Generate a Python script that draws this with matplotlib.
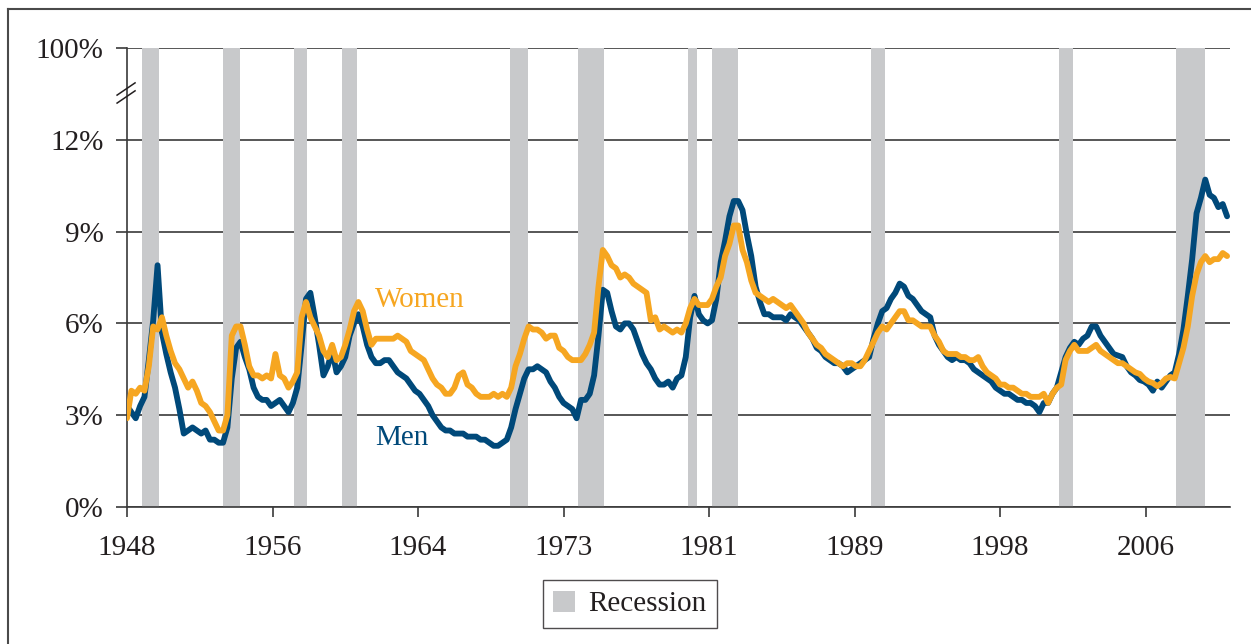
import numpy as np
import matplotlib
matplotlib.use("Agg")
import matplotlib.pyplot as plt
from matplotlib.patches import Patch
from matplotlib.lines import Line2D
from matplotlib.transforms import blended_transform_factory

plt.rcParams['font.family'] = ['Liberation Serif', 'DejaVu Serif']

# quarterly unemployment rates (%), first value = Q1 1948
men = [
    3.3, 3.1, 2.9, 3.3,   # 1948
    3.6, 4.8, 6.1, 7.9,   # 1949
    5.7, 5.0, 4.4, 3.9,   # 1950
    3.2, 2.4, 2.5, 2.6,   # 1951
    2.5, 2.4, 2.5, 2.2,   # 1952
    2.2, 2.1, 2.1, 2.6,   # 1953
    4.2, 5.2, 5.4, 4.9,   # 1954
    4.5, 3.9, 3.6, 3.5,   # 1955
    3.5, 3.3, 3.4, 3.5,   # 1956
    3.3, 3.1, 3.4, 3.9,   # 1957
    5.3, 6.8, 7.0, 6.2,   # 1958
    5.3, 4.3, 4.6, 5.1,   # 1959
    4.4, 4.6, 4.9, 5.6,   # 1960
    6.0, 6.3, 5.9, 5.3,   # 1961
    4.9, 4.7, 4.7, 4.8,   # 1962
    4.8, 4.6, 4.4, 4.3,   # 1963
    4.2, 4.0, 3.8, 3.7,   # 1964
    3.5, 3.3, 3.0, 2.8,   # 1965
    2.6, 2.5, 2.5, 2.4,   # 1966
    2.4, 2.4, 2.3, 2.3,   # 1967
    2.3, 2.2, 2.2, 2.1,   # 1968
    2.0, 2.0, 2.1, 2.2,   # 1969
    2.6, 3.2, 3.7, 4.2,   # 1970
    4.5, 4.5, 4.6, 4.5,   # 1971
    4.4, 4.1, 3.9, 3.6,   # 1972
    3.4, 3.3, 3.2, 2.9,   # 1973
    3.5, 3.5, 3.7, 4.3,   # 1974
    5.6, 7.1, 7.0, 6.4,   # 1975
    5.9, 5.8, 6.0, 6.0,   # 1976
    5.8, 5.4, 5.0, 4.7,   # 1977
    4.5, 4.2, 4.0, 4.0,   # 1978
    4.1, 3.9, 4.2, 4.3,   # 1979
    4.9, 6.2, 6.9, 6.3,   # 1980
    6.1, 6.0, 6.1, 6.8,   # 1981
    8.0, 8.7, 9.5, 10.0,  # 1982
    10.0, 9.7, 8.9, 8.2,  # 1983
    7.2, 6.7, 6.3, 6.3,   # 1984
    6.2, 6.2, 6.2, 6.1,   # 1985
    6.3, 6.2, 6.1, 5.9,   # 1986
    5.7, 5.5, 5.2, 5.1,   # 1987
    4.9, 4.8, 4.7, 4.7,   # 1988
    4.6, 4.4, 4.5, 4.6,   # 1989
    4.7, 4.8, 4.9, 5.5,   # 1990
    6.0, 6.4, 6.5, 6.8,   # 1991
    7.0, 7.3, 7.2, 6.9,   # 1992
    6.8, 6.6, 6.4, 6.3,   # 1993
    6.2, 5.6, 5.3, 5.1,   # 1994
    4.9, 4.8, 4.9, 4.8,   # 1995
    4.8, 4.7, 4.5, 4.4,   # 1996
    4.3, 4.2, 4.1, 3.9,   # 1997
    3.8, 3.7, 3.7, 3.6,   # 1998
    3.5, 3.5, 3.4, 3.4,   # 1999
    3.3, 3.1, 3.4, 3.4,   # 2000
    3.7, 3.9, 4.4, 4.9,   # 2001
    5.2, 5.4, 5.3, 5.5,   # 2002
    5.6, 5.9, 5.9, 5.6,   # 2003
    5.4, 5.2, 5.0, 4.95,  # 2004
    4.9, 4.6, 4.4, 4.3,   # 2005
    4.15, 4.1, 4.0, 3.8,  # 2006
    4.1, 3.9, 4.1, 4.3,   # 2007
    4.4, 5.0, 5.8, 6.9,   # 2008
    8.1, 9.6, 10.1, 10.7, # 2009
    10.2, 10.1, 9.8, 9.9, # 2010
    9.5,                  # 2011
]

women = [
    2.9, 3.8, 3.7, 3.9,   # 1948
    3.8, 4.6, 5.9, 5.8,   # 1949
    6.2, 5.6, 5.1, 4.7,   # 1950
    4.5, 4.2, 3.9, 4.1,   # 1951
    3.8, 3.4, 3.3, 3.1,   # 1952
    2.8, 2.5, 2.5, 3.0,   # 1953
    5.6, 5.9, 5.9, 5.3,   # 1954
    4.6, 4.3, 4.3, 4.2,   # 1955
    4.3, 4.2, 5.0, 4.3,   # 1956
    4.2, 3.9, 4.1, 4.4,   # 1957
    6.2, 6.7, 6.2, 5.9,   # 1958
    5.6, 5.1, 4.9, 5.3,   # 1959
    4.8, 4.9, 5.3, 5.8,   # 1960
    6.4, 6.7, 6.4, 5.8,   # 1961
    5.3, 5.5, 5.5, 5.5,   # 1962
    5.5, 5.5, 5.6, 5.5,   # 1963
    5.4, 5.1, 5.0, 4.9,   # 1964
    4.8, 4.5, 4.2, 4.0,   # 1965
    3.9, 3.7, 3.7, 3.9,   # 1966
    4.3, 4.4, 4.0, 3.9,   # 1967
    3.7, 3.6, 3.6, 3.6,   # 1968
    3.7, 3.6, 3.7, 3.6,   # 1969
    3.9, 4.6, 5.0, 5.5,   # 1970
    5.9, 5.8, 5.8, 5.7,   # 1971
    5.5, 5.6, 5.6, 5.2,   # 1972
    5.1, 4.9, 4.8, 4.8,   # 1973
    4.8, 5.0, 5.3, 5.7,   # 1974
    7.2, 8.4, 8.2, 7.9,   # 1975
    7.8, 7.5, 7.6, 7.5,   # 1976
    7.3, 7.2, 7.1, 7.0,   # 1977
    6.1, 6.2, 5.8, 5.9,   # 1978
    5.8, 5.7, 5.8, 5.7,   # 1979
    6.0, 6.5, 6.8, 6.6,   # 1980
    6.6, 6.6, 6.8, 7.2,   # 1981
    7.5, 8.2, 8.6, 9.2,   # 1982
    9.2, 8.4, 8.0, 7.4,   # 1983
    7.0, 6.9, 6.8, 6.7,   # 1984
    6.8, 6.7, 6.6, 6.5,   # 1985
    6.6, 6.4, 6.2, 6.0,   # 1986
    5.7, 5.5, 5.3, 5.2,   # 1987
    5.0, 4.9, 4.8, 4.7,   # 1988
    4.6, 4.7, 4.7, 4.6,   # 1989
    4.6, 4.8, 5.1, 5.4,   # 1990
    5.7, 5.9, 5.8, 6.0,   # 1991
    6.2, 6.4, 6.4, 6.1,   # 1992
    6.1, 6.0, 5.9, 5.9,   # 1993
    5.9, 5.6, 5.4, 5.1,   # 1994
    5.0, 5.0, 5.0, 4.9,   # 1995
    4.9, 4.8, 4.8, 4.9,   # 1996
    4.6, 4.4, 4.3, 4.2,   # 1997
    4.0, 4.0, 3.9, 3.9,   # 1998
    3.8, 3.7, 3.7, 3.6,   # 1999
    3.6, 3.6, 3.7, 3.4,   # 2000
    3.7, 3.9, 4.0, 4.8,   # 2001
    5.1, 5.3, 5.1, 5.1,   # 2002
    5.1, 5.2, 5.3, 5.1,   # 2003
    5.0, 4.9, 4.8, 4.7,   # 2004
    4.7, 4.6, 4.5, 4.4,   # 2005
    4.35, 4.2, 4.1, 4.05, # 2006
    3.95, 4.05, 4.2, 4.25,# 2007
    4.2, 4.7, 5.2, 5.9,   # 2008
    6.9, 7.6, 8.0, 8.2,   # 2009
    8.0, 8.1, 8.1, 8.3,   # 2010
    8.2,                  # 2011
]

# recession shading as it appears on the chart (decimal years)
rec_start = [1948.86, 1953.50, 1957.57, 1960.32, 1969.93, 1973.83, 1980.13, 1981.50, 1990.61, 2001.38, 2008.08]
rec_end   = [1949.83, 1954.47, 1958.31, 1961.17, 1970.97, 1975.32, 1980.65, 1983.00, 1991.42, 2002.18, 2009.75]

tick_labels = ['1948', '1956', '1964', '1973', '1981', '1989', '1998', '2006']
y_ticks = [0, 3, 6, 9, 12, 15]
y_labels = ['0%', '3%', '6%', '9%', '12%', '100%']

men_color = '#00497a'
women_color = '#f6a621'
rec_color = '#c8c9cb'
ink = '#231f20'
fs = 21

t = 1948 + np.arange(len(men)) * 0.25

fig = plt.figure(figsize=(12.51, 6.44), dpi=100)
ax = fig.add_axes([127/1251, 137/644, 1103/1251, 459/644])

for s, e in zip(rec_start, rec_end):
    ax.axvspan(s, e, color=rec_color, lw=0, zorder=1)

ax.plot(t, men, color=men_color, lw=4.2, solid_joinstyle='round', solid_capstyle='round', zorder=3)
ax.plot(t, women, color=women_color, lw=4.2, solid_joinstyle='round', solid_capstyle='round', zorder=4)

ax.set_xlim(1948, 1948 + 758/12)
ax.set_ylim(0, 15)

ax.set_yticks(y_ticks)
ax.set_yticklabels(y_labels)
ax.set_xticks(1948 + np.arange(len(tick_labels)) * 100/12)
ax.set_xticklabels(tick_labels)

ax.set_axisbelow(True)
ax.yaxis.grid(True, color='#3a3a3a', lw=1.2, zorder=0)
ax.tick_params(axis='y', length=8, width=1.2, color='#3a3a3a', pad=9, labelsize=fs, labelcolor=ink)
ax.tick_params(axis='x', length=7, width=1.2, color='#3a3a3a', pad=13, labelsize=fs, labelcolor=ink)

for side in ['top', 'right']:
    ax.spines[side].set_visible(False)
for side in ['left', 'bottom']:
    ax.spines[side].set_color('#3a3a3a')
    ax.spines[side].set_linewidth(1.2)

# axis break marks between 12% and 100%
tr = blended_transform_factory(ax.transAxes, ax.transData)
for y0 in [13.46, 13.2]:
    ax.plot([-0.009, 0.0073], [y0, y0 + 0.4], color=ink, lw=1.1,
            transform=tr, clip_on=False, zorder=5)

ax.text(1962.2, 6.76, 'Women', color=women_color, fontsize=fs, ha='left', va='center')
ax.text(1962.2, 2.25, 'Men', color=men_color, fontsize=fs, ha='left', va='center')

fig.legend(handles=[Patch(facecolor=rec_color, edgecolor='none', label='Recession')],
           loc='center', bbox_to_anchor=(630/1251, 40/644), frameon=True,
           fancybox=False, edgecolor=ink, fontsize=fs, handlelength=0.75,
           handleheight=0.75, handletextpad=0.45, borderpad=0.35, borderaxespad=0)
leg = fig.legends[0]
leg.get_frame().set_linewidth(1.0)
for txt in leg.get_texts():
    txt.set_color(ink)

# outer frame (top and left edges visible)
fig.add_artist(Line2D([8/1251, 1], [1 - 9/644, 1 - 9/644], color='#4a4a4a', lw=1.5))
fig.add_artist(Line2D([8/1251, 8/1251], [0, 1 - 9/644], color='#4a4a4a', lw=1.5))

fig.savefig('out.png', dpi=100)
